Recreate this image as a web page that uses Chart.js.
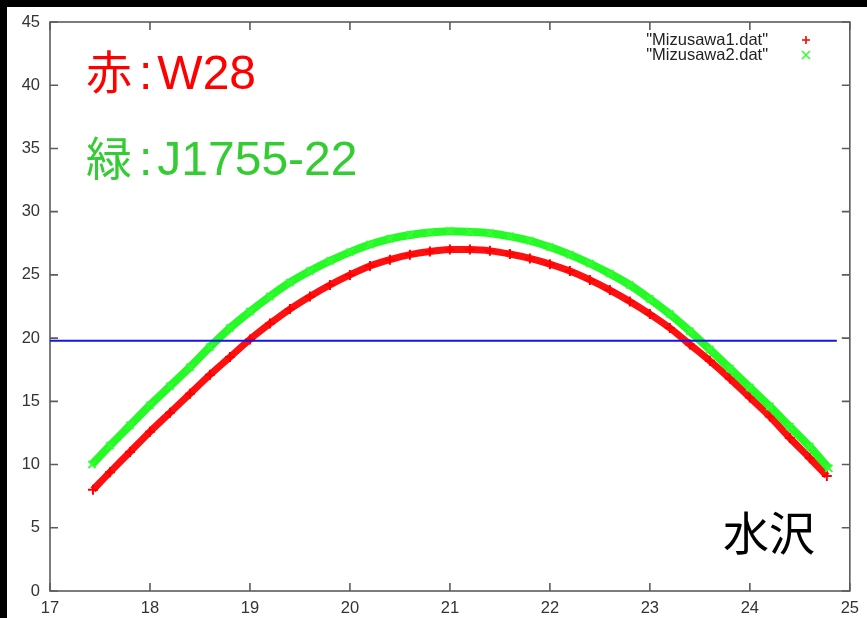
<!DOCTYPE html>
<html>
<head>
<meta charset="utf-8">
<script src="https://cdn.jsdelivr.net/npm/chart.js@4/dist/chart.umd.min.js"></script>
<style>
  html, body { margin: 0; padding: 0; background: #000; }
  #wrap { position: absolute; left: 0; top: 0; width: 867px; height: 618px; }
</style>
</head>
<body>
<div id="wrap"><canvas id="c" width="867" height="618"></canvas></div>
<script>
// Elevation (deg) vs. local time (h) at Mizusawa
const hoursW28 = [17.43, 17.6, 17.8, 18.0, 18.2, 18.4, 18.6, 18.8, 19.0, 19.2, 19.4, 19.6, 19.8,
  20.0, 20.2, 20.4, 20.6, 20.8, 21.0, 21.2, 21.4, 21.6, 21.8, 22.0, 22.2, 22.4, 22.6, 22.8,
  23.0, 23.2, 23.4, 23.6, 23.8, 24.0, 24.2, 24.4, 24.6, 24.77];
const elevW28 = [8.0, 9.4, 11.0, 12.6, 14.1, 15.6, 17.1, 18.5, 19.9, 21.15, 22.3, 23.3, 24.2,
  25.0, 25.7, 26.2, 26.6, 26.85, 27.0, 27.0, 26.9, 26.65, 26.3, 25.85, 25.3, 24.6, 23.8, 22.9,
  21.9, 20.8, 19.5, 18.2, 16.8, 15.3, 13.8, 12.1, 10.5, 9.1];

const hoursJ1755 = [17.42, 17.6, 17.8, 18.0, 18.2, 18.4, 18.6, 18.8, 19.0, 19.2, 19.4, 19.6, 19.8,
  20.0, 20.2, 20.4, 20.6, 20.8, 21.0, 21.2, 21.4, 21.6, 21.8, 22.0, 22.2, 22.4, 22.6, 22.8,
  23.0, 23.2, 23.4, 23.6, 23.8, 24.0, 24.2, 24.4, 24.6, 24.79];
const elevJ1755 = [10.0, 11.5, 13.1, 14.7, 16.2, 17.7, 19.3, 20.8, 22.1, 23.3, 24.4, 25.3, 26.1,
  26.8, 27.4, 27.85, 28.15, 28.35, 28.45, 28.4, 28.3, 28.05, 27.7, 27.2, 26.6, 25.9, 25.1, 24.2,
  23.1, 21.9, 20.55, 19.1, 17.6, 16.1, 14.6, 13.0, 11.4, 9.7];

// Reference elevation line
const limitHours = [17.0, 24.87];
const limitElev = [19.8, 19.8];

const seriesLabels = ['"Mizusawa1.dat"', '"Mizusawa2.dat"'];
const xTicks = [17, 18, 19, 20, 21, 22, 23, 24, 25];
const yTicks = [0, 5, 10, 15, 20, 25, 30, 35, 40, 45];

const toPts = (xs, ys) => xs.map((x, i) => ({ x, y: ys[i] }));

const FONT = "'Liberation Sans', Arial, sans-serif";
const CJK = "'Noto Sans CJK JP', sans-serif";

// Black surround with white page
const backdrop = {
  id: 'backdrop',
  beforeDraw(chart) {
    const ctx = chart.ctx;
    ctx.save();
    ctx.fillStyle = '#000';
    ctx.fillRect(0, 0, chart.width, chart.height);
    ctx.fillStyle = '#fff';
    ctx.fillRect(7, 7, chart.width - 7, chart.height - 7);
    ctx.restore();
  }
};

// gnuplot-style border with inward, mirrored ticks
const frame = {
  id: 'frame',
  beforeDatasetsDraw(chart) {
    const { ctx, chartArea: a, scales: { x, y } } = chart;
    const len = 8;
    ctx.save();
    ctx.strokeStyle = '#5c5c5c';
    ctx.lineWidth = 1.6;
    ctx.strokeRect(a.left, a.top, a.right - a.left, a.bottom - a.top);
    ctx.beginPath();
    x.ticks.forEach(t => {
      const px = x.getPixelForValue(t.value);
      ctx.moveTo(px, a.bottom); ctx.lineTo(px, a.bottom - len);
      ctx.moveTo(px, a.top); ctx.lineTo(px, a.top + len);
    });
    y.ticks.forEach(t => {
      const py = y.getPixelForValue(t.value);
      ctx.moveTo(a.left, py); ctx.lineTo(a.left + len, py);
      ctx.moveTo(a.right, py); ctx.lineTo(a.right - len, py);
    });
    ctx.stroke();
    ctx.restore();
  }
};

// A label made of a CJK character, a colon and a Latin name
function drawNote(ctx, x, y, kanji, name, color) {
  ctx.fillStyle = color;
  ctx.font = '46px ' + CJK;
  ctx.fillText(kanji, x, y);
  let cx = x + ctx.measureText(kanji).width + 7;
  ctx.font = '48px ' + FONT;
  ctx.fillText(':', cx, y);
  cx += ctx.measureText(':').width + 5;
  ctx.fillText(name, cx, y);
}

// Key in the top-right corner plus the source notes
const notes = {
  id: 'notes',
  afterDraw(chart) {
    const ctx = chart.ctx;
    ctx.save();
    // key
    ctx.font = '16.5px ' + FONT;
    ctx.fillStyle = '#222';
    ctx.textAlign = 'right';
    ctx.textBaseline = 'middle';
    const keyY = [40, 55];
    chart.data.datasets.slice(0, 2).forEach((ds, i) => {
      ctx.fillText(ds.label, 768, keyY[i]);
      ctx.strokeStyle = ds.pointBorderColor;
      ctx.lineWidth = 1.6;
      ctx.beginPath();
      const cx = 806, cy = keyY[i], r = 4;
      if (i === 0) {
        ctx.moveTo(cx - r, cy); ctx.lineTo(cx + r, cy);
        ctx.moveTo(cx, cy - r); ctx.lineTo(cx, cy + r);
      } else {
        ctx.moveTo(cx - r, cy - r); ctx.lineTo(cx + r, cy + r);
        ctx.moveTo(cx - r, cy + r); ctx.lineTo(cx + r, cy - r);
      }
      ctx.stroke();
    });
    // source notes
    ctx.textAlign = 'left';
    ctx.textBaseline = 'alphabetic';
    drawNote(ctx, 86, 89, '赤', 'W28', '#ff0000');
    drawNote(ctx, 86, 175, '緑', 'J1755-22', '#33cc33');
    ctx.font = '46px ' + CJK;
    ctx.fillStyle = '#000';
    ctx.fillText('水沢', 723, 550);
    ctx.restore();
  }
};

new Chart(document.getElementById('c'), {
  type: 'scatter',
  data: {
    datasets: [
      {
        label: seriesLabels[0],
        data: toPts(hoursW28, elevW28),
        showLine: true,
        tension: 0.3,
        borderColor: '#ff1010',
        borderWidth: 7,
        pointStyle: 'cross',
        pointRadius: 5,
        pointBorderWidth: 2,
        pointBorderColor: '#ff0000',
        pointBackgroundColor: '#ff0000',
        order: 3
      },
      {
        label: seriesLabels[1],
        data: toPts(hoursJ1755, elevJ1755),
        showLine: true,
        tension: 0.3,
        borderColor: 'rgba(20,250,20,0.92)',
        borderWidth: 8,
        pointStyle: 'crossRot',
        pointRadius: 5,
        pointBorderWidth: 2,
        pointBorderColor: '#33ff33',
        pointBackgroundColor: '#33ff33',
        order: 2
      },
      {
        label: 'limit',
        data: toPts(limitHours, limitElev),
        showLine: true,
        borderColor: '#1414e6',
        borderWidth: 2,
        pointRadius: 0,
        order: 1
      }
    ]
  },
  options: {
    responsive: false,
    animation: false,
    events: [],
    layout: { padding: { top: 22, right: 16, left: 0, bottom: 0 } },
    plugins: { legend: { display: false }, tooltip: { enabled: false } },
    scales: {
      x: {
        type: 'linear', min: 17, max: 25,
        afterBuildTicks: s => { s.ticks = xTicks.map(v => ({ value: v })); },
        afterFit: s => { s.height = 27; },
        grid: { display: false, drawTicks: false },
        border: { display: false },
        ticks: { padding: 8, color: '#333', font: { family: FONT, size: 16.5 }, maxRotation: 0 }
      },
      y: {
        type: 'linear', min: 0, max: 45,
        afterBuildTicks: s => { s.ticks = yTicks.map(v => ({ value: v })); },
        afterFit: s => { s.width = 50; },
        grid: { display: false, drawTicks: false },
        border: { display: false },
        ticks: { padding: 10, color: '#333', font: { family: FONT, size: 16.5 } }
      }
    }
  },
  plugins: [backdrop, frame, notes]
});
</script>
</body>
</html>
